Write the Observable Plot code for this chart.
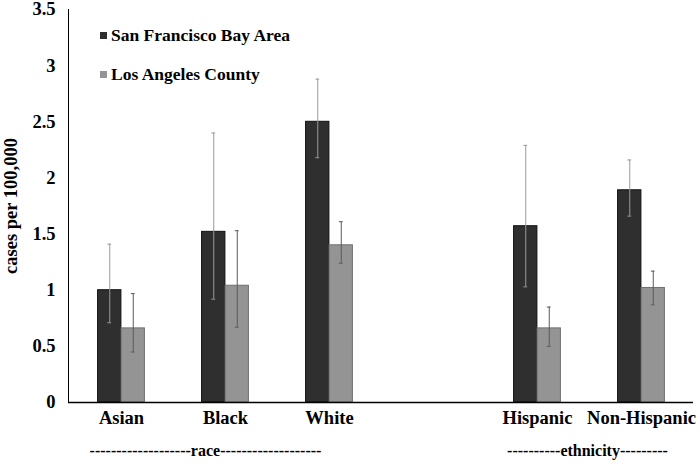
<!DOCTYPE html>
<html>
<head>
<meta charset="utf-8">
<script src="https://cdn.jsdelivr.net/npm/d3@7"></script>
<script src="https://cdn.jsdelivr.net/npm/@observablehq/plot@0.6"></script>
<style>
  body { margin: 0; background: #fff; }
  #wrap { position: relative; width: 700px; height: 464px; font-family: "Liberation Serif", "Times New Roman", serif; font-weight: bold; color: #000; }
  #wrap svg { position: absolute; left: 0; top: 0; }
  .leg { position: absolute; font-size: 17.5px; line-height: 1; white-space: nowrap; }
  .sw { position: absolute; width: 7px; height: 7px; }
</style>
</head>
<body>
<div id="wrap"></div>
<script>
// ---- data ----
const categories = ["Asian", "Black", "White", " ", "Hispanic", "Non-Hispanic"];
const dataCategories = ["Asian", "Black", "White", "Hispanic", "Non-Hispanic"];
const seriesNames = ["San Francisco Bay Area", "Los Angeles County"];
const sfRate = [1.00, 1.52, 2.50, 1.57, 1.89];
const sfLow  = [0.71, 0.92, 2.18, 1.03, 1.66];
const sfHigh = [1.41, 2.40, 2.88, 2.29, 2.16];
const laRate = [0.66, 1.04, 1.40, 0.66, 1.02];
const laLow  = [0.45, 0.67, 1.24, 0.50, 0.87];
const laHigh = [0.97, 1.53, 1.61, 0.85, 1.17];
const yTicks = [0, 0.5, 1, 1.5, 2, 2.5, 3, 3.5];
const yLabel = "cases per 100,000";
const groupLabels = ["-------------------race-------------------", "----------ethnicity---------"];
const groupAnchors = ["Black", "Hispanic"];

// ---- layout / style ----
const W = 700, H = 464;
const mL = 68, mR = 7, mT = 9, mB = 62;
const bw = (W - mL - mR) / categories.length;
const barW = 23.5, capW = 4;
const colors = ["#2f2f2f", "#949494"];
const strokes = ["#111111", "#707070"];
const errColors = ["#9a9a9a", "#5a5a5a"];
const groupShift = [-20, 50];

const sfRows = dataCategories.map((c, i) => ({cat: c, v: sfRate[i], lo: sfLow[i], hi: sfHigh[i]}));
const laRows = dataCategories.map((c, i) => ({cat: c, v: laRate[i], lo: laLow[i], hi: laHigh[i]}));

const sfCenter = bw / 2 - barW / 2;   // offset from band start to bar centre
const laCenter = bw / 2 + barW / 2;

function errMarks(rows, center, color, dx) {
  return [
    Plot.ruleX(rows, {x: "cat", y1: "lo", y2: "hi", dx: dx, stroke: color, strokeWidth: 1}),
    Plot.tickY(rows, {x: "cat", y: "lo", stroke: color, strokeWidth: 1, insetLeft: center - capW / 2, insetRight: bw - center - capW / 2}),
    Plot.tickY(rows, {x: "cat", y: "hi", stroke: color, strokeWidth: 1, insetLeft: center - capW / 2, insetRight: bw - center - capW / 2})
  ];
}

const groupMarks = groupLabels.map((t, i) =>
  Plot.text([{text: t, cat: groupAnchors[i]}], {
    x: "cat", text: "text", frameAnchor: "bottom", dy: 53, dx: groupShift[i],
    fontSize: 16, fontWeight: "bold", textAnchor: "middle"
  })
);

const chart = Plot.plot({
  width: W, height: H,
  marginLeft: mL, marginRight: mR, marginTop: mT, marginBottom: mB,
  style: {fontFamily: '"Liberation Serif", "Times New Roman", serif', fontWeight: "bold", fontSize: "18.5px", color: "#000", background: "transparent"},
  x: {domain: categories, padding: 0, tickSize: 0, tickPadding: 8, label: null},
  y: {domain: [0, 3.5], ticks: yTicks, tickFormat: d => String(d), tickSize: 0, tickPadding: 13, label: null, line: true},
  marks: [
    Plot.barY(sfRows, {x: "cat", y: "v", fill: colors[0], stroke: strokes[0], strokeWidth: 1, insetLeft: bw / 2 - barW, insetRight: bw / 2}),
    Plot.barY(laRows, {x: "cat", y: "v", fill: colors[1], stroke: strokes[1], strokeWidth: 1, insetLeft: bw / 2, insetRight: bw / 2 - barW}),
    ...errMarks(sfRows, sfCenter, errColors[0], -barW / 2),
    ...errMarks(laRows, laCenter, errColors[1], barW / 2),
    Plot.ruleY([0], {stroke: "#000", strokeWidth: 1.5}),
    Plot.text([yLabel], {text: d => d, frameAnchor: "left", textAnchor: "middle", rotate: -90, dx: -57, fontSize: 18.5, fontWeight: "bold"}),
    ...groupMarks
  ]
});
const wrap = document.getElementById("wrap");
wrap.appendChild(chart);

// legend (HTML overlay)
const legTops = [30, 69];
seriesNames.forEach((name, i) => {
  const sw = document.createElement("div");
  sw.className = "sw";
  sw.style.left = "100px";
  sw.style.top = (legTops[i] + 2) + "px";
  sw.style.background = colors[i];
  wrap.appendChild(sw);
  const t = document.createElement("div");
  t.className = "leg";
  t.style.left = "111px";
  t.style.top = (legTops[i] - 3) + "px";
  t.textContent = name;
  wrap.appendChild(t);
});
</script>
</body>
</html>
